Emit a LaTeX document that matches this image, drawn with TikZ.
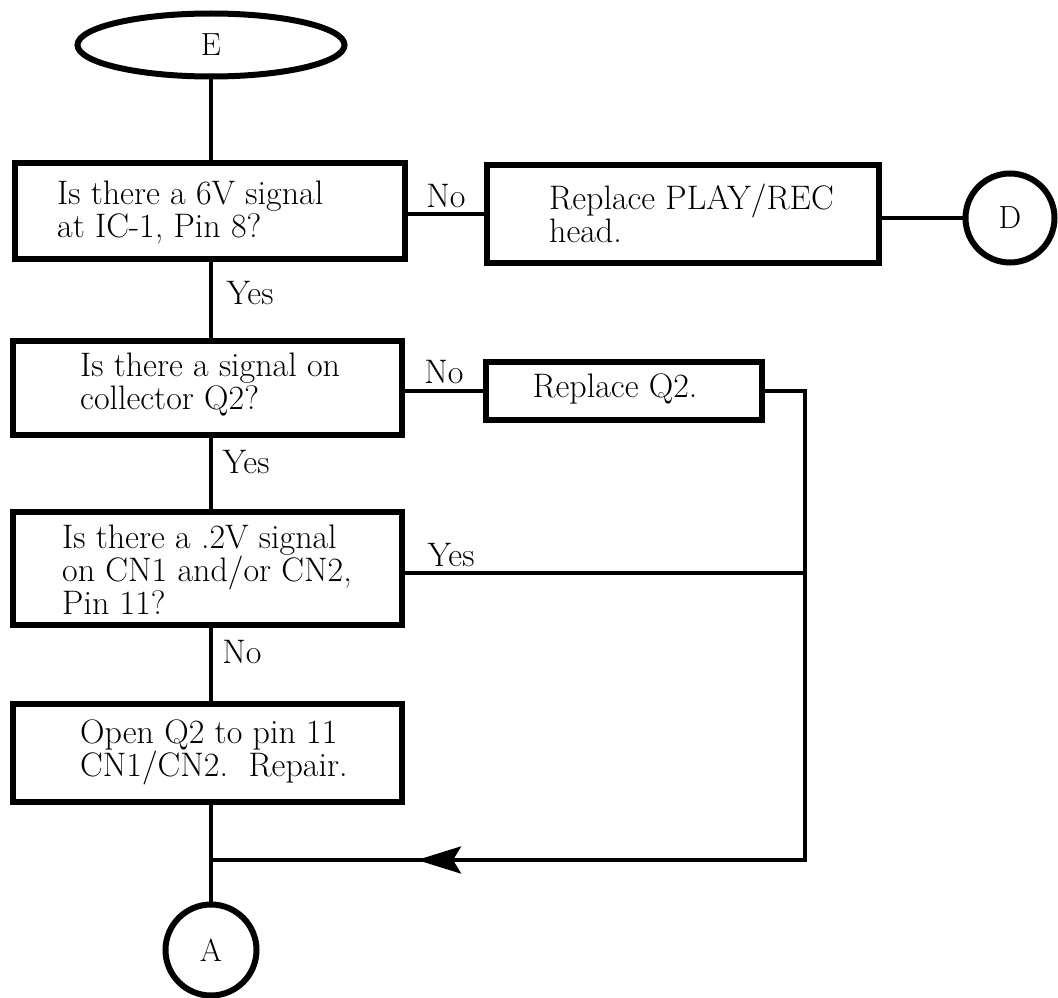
\documentclass[tikz,border=0pt]{standalone}
\usetikzlibrary{shapes.geometric,arrows.meta,calc}
\begin{document}
\begin{tikzpicture}[x=1pt,y=-1pt,
  every node/.style={font=\fontsize{34}{33}\selectfont},
  box/.style={draw, line width=6pt, rectangle, inner sep=0pt},
  conn/.style={line width=4pt},
  txt/.style={anchor=west, align=left, inner sep=0pt},
  lbl/.style={inner sep=0pt},
  term/.style={draw, line width=6pt, inner sep=0pt, font=\fontsize{32}{32}\selectfont}
]
\useasboundingbox (0,0) rectangle (1058,998);
% terminals
\node[term, ellipse, minimum width=267pt, minimum height=63pt] (E) at (211,45) {E};
\node[term, circle, minimum size=89pt] (D) at (1010,218) {D};
\node[term, circle, minimum size=91pt] (A) at (211,950) {A};
% boxes
\node[box, minimum width=390pt, minimum height=96pt] (b1) at (210,211) {};
\node[box, minimum width=392pt, minimum height=98pt] (b2) at (683,214) {};
\node[box, minimum width=389pt, minimum height=94pt] (b3) at (207.5,388) {};
\node[box, minimum width=276pt, minimum height=58pt] (q2) at (624,391) {};
\node[box, minimum width=389pt, minimum height=113pt] (b4) at (207.5,568.5) {};
\node[box, minimum width=389pt, minimum height=98pt] (b5) at (207.5,753) {};
% box texts
\node[txt] (t1) at (57,212) {Is there a 6V signal\\at IC-1, Pin 8?};
\node[txt] (t2) at (549,213) {Replace PLAY/REC\\head.};
\node[txt] (t3) at (80,385) {Is there a signal on\\collector Q2?};
\node[lbl] (tq) at (615,389) {Replace Q2.};
\node[txt] (t4) at (62,570) {Is there a .2V signal\\on CN1 and/or CN2,\\Pin 11?};
\node[txt] (t5) at (80,752) {Open Q2 to pin 11\\CN1/CN2.\ \ Repair.};
% coordinates
\coordinate (c1) at (805,391);
\coordinate (c2) at (805,860);
\coordinate (j) at (211,860);
\coordinate (y4) at (805,573);
\coordinate (tip) at (417,860);
% vertical spine
\draw[conn] (E.south) -- (E.south |- b1.north);
\draw[conn] (b1.south -| E.south) -- (b3.north -| E.south);
\draw[conn] (b3.south -| E.south) -- (b4.north -| E.south);
\draw[conn] (b4.south -| E.south) -- (b5.north -| E.south);
\draw[conn] (b5.south -| E.south) -- (A.north);
% horizontal connectors
\draw[conn] (b1.east |- b2.west) -- (b2.west);
\draw[conn] (b2.east |- D.west) -- (D.west);
\draw[conn] (b3.east |- q2.west) -- (q2.west);
\draw[conn] (b4.east |- y4) -- (y4);
\draw[conn] (q2.east) -- (c1) -- (c2) -- (j);
\draw[conn, -{Stealth[length=44pt,width=27pt,inset=8pt]}] (c2) -- (tip);
% labels
\node[lbl] (nNo1) at (446,196) {No};
\node[lbl] (nYes1) at (250,293) {Yes};
\node[lbl] (nNo2) at (444,372) {No};
\node[lbl] (nYes2) at (246,462) {Yes};
\node[lbl] (nYes3) at (451,555) {Yes};
\node[lbl] (nNo3) at (242,652) {No};
\end{tikzpicture}
\end{document}
